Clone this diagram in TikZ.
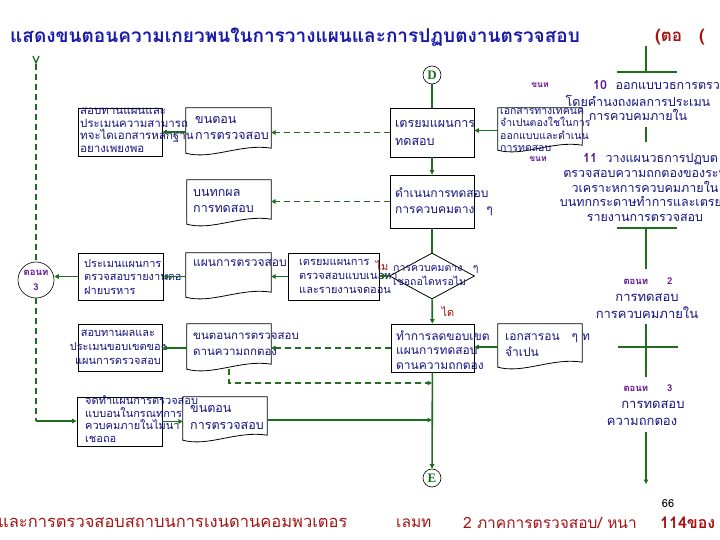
\documentclass[tikz,border=0pt]{standalone}
\usepackage{fontspec}
\setmainfont[Script=Thai]{Loma}
\newfontfamily\latserif{Liberation Serif}
\usetikzlibrary{arrows.meta,calc,shapes.geometric}
\definecolor{lgreen}{RGB}{30,110,30}
\definecolor{navy}{RGB}{20,20,130}
\definecolor{ttl}{RGB}{25,25,170}
\definecolor{dred}{RGB}{165,20,20}
\definecolor{purp}{RGB}{100,20,140}
\newcommand\docoutline[1]{%
  \draw[black, line width=0.8pt] (#1.north west) -- (#1.north east) -- ($(#1.south east)+(0,-8)$)
    .. controls ($(#1.south west)!0.65!(#1.south east)+(0,-13)$) and ($(#1.south west)!0.3!(#1.south east)+(0,4)$)
    .. ($(#1.south west)+(0,-3)$) -- cycle;}
\tikzset{
  ln/.style={draw=lgreen, line width=1.6pt},
  arr/.style={ln, -{Triangle[length=4.5pt,width=4.5pt]}},
  dsh/.style={dash pattern=on 6pt off 4pt},
  box/.style={draw=black, line width=0.8pt, inner sep=0, rectangle},
  docn/.style={inner sep=0, rectangle},
  txs/.style={inner sep=0, text=navy, font=\fontsize{10.5}{12.5}\selectfont, align=left, anchor=west},
  txb/.style={inner sep=0, text=navy, font=\fontsize{12}{16}\selectfont, align=left, anchor=west},
  txr/.style={inner sep=0, text=navy, font=\fontsize{12.5}{14.5}\selectfont, align=center},
  pl/.style={text=purp, font=\bfseries\fontsize{8.5}{10}\selectfont, inner sep=0},
  rl/.style={text=dred, font=\fontsize{11}{12}\selectfont, inner sep=0},
  conn/.style={circle, draw=black, line width=0.6pt, inner sep=0, minimum size=18pt, text=lgreen, font=\latserif\bfseries\fontsize{13}{13}\selectfont}
}
\begin{document}
\begin{tikzpicture}[x=1pt,y=-1pt]
\useasboundingbox[fill=white] (0,0) rectangle (720,540);

% title
\node[inner sep=0, anchor=west, text=ttl, font=\bfseries\fontsize{19}{22}\selectfont] (title) at (10,37) {แสดงขนตอนความเกยวพนในการวางแผนและการปฏบตงานตรวจสอบ};
\node[inner sep=0, anchor=west, text=dred, font=\bfseries\fontsize{17}{20}\selectfont] (cont) at (655,37) {(ตอ\quad (};

% ---------- central column ----------
\node[conn] (Dc) at (432,75) {D};
\node[box, minimum width=84pt, minimum height=49pt] (D1) at (432,132.5) {};
\node[txb, font=\fontsize{12.5}{18}\selectfont] (D1t) at (395,133) {เตรยมแผนการ\\ทดสอบ};
\node[box, minimum width=84pt, minimum height=53pt] (D2) at (432,201.5) {};
\node[txb] (D2t) at (395,202) {ดำเนนการทดสอบ\\การควบคมตาง\quad ๆ};
\node[diamond, draw=black, line width=0.8pt, inner sep=0, minimum width=85pt, minimum height=46pt] (Dm) at (432,276) {};
\node[txs, font=\fontsize{10.5}{14}\selectfont] (Dmt) at (393,276) {การควบคมตาง\quad ๆ\\เชอถอไดหรอไม};
\node[box, minimum width=83pt, minimum height=48pt] (R4) at (432.5,348) {};
\node[txs, font=\fontsize{12}{14.5}\selectfont] (R4t) at (396,350) {ทำการลดขอบเขต\\แผนการทดสอบ\\ดานความถกตอง};
\node[conn] (Ec) at (432,478) {E};

\node[docn, minimum width=84pt, minimum height=45pt] (T) at (540,130.5) {};
\docoutline{T}
\node[txs] (Tt) at (500,130) {เอกสารทางเทคนค\\จำเปนตองใชในการ\\ออกแบบและดำเนน\\การทดสอบ};
\node[docn, minimum width=84pt, minimum height=46pt] (Rb) at (540,347) {};
\docoutline{Rb}
\node[txb] (Rbt) at (505,345) {เอกสารอน\quad ๆ ท\\จำเปน};

% ---------- left columns ----------
\node[box, minimum width=84pt, minimum height=48pt] (A) at (120,132) {};
\node[txs, font=\fontsize{11.5}{12.7}\selectfont] (At) at (80,130) {สอบทานแผนและ\\ประเมนความสามารถ\\ทจะไดเอกสารหลกฐาน\\อยางเพยงพอ};
\node[docn, minimum width=85pt, minimum height=48pt] (B) at (228.5,132) {};
\docoutline{B}
\node[txb, font=\fontsize{12.5}{16}\selectfont] (Bt) at (195,128) {ขนตอน\\การตรวจสอบ};
\node[docn, minimum width=84pt, minimum height=47pt] (C) at (229,203.5) {};
\docoutline{C}
\node[txb, font=\fontsize{12.5}{16}\selectfont] (Ct) at (193,201) {บนทกผล\\การทดสอบ};

\node[circle, draw=black, line width=0.6pt, inner sep=0, minimum size=36pt] (K3) at (36,280) {};
\node[pl, align=center, font=\bfseries\fontsize{9.5}{15}\selectfont] (K3t) at (36,280) {ตอนท\\3};
\node[box, minimum width=85pt, minimum height=47pt] (P) at (120.5,276.5) {};
\node[txs, font=\fontsize{11}{13.5}\selectfont] (Pt) at (84,277) {ประเมนแผนการ\\ตรวจสอบรายงานตอ\\ฝายบรหาร};
\node[docn, minimum width=85pt, minimum height=47pt] (Q) at (228.5,276.5) {};
\docoutline{Q}
\node[txb] (Qt) at (193,263) {แผนการตรวจสอบ};
\node[box, minimum width=91pt, minimum height=47pt] (S) at (333.5,276.5) {};
\node[txs, font=\fontsize{11}{14}\selectfont] (St) at (299,276) {เตรยมแผนการ\\ตรวจสอบแบบเนอหา\\และรายงานจดออน};

\node[box, minimum width=84pt, minimum height=47pt] (R) at (120,347.5) {};
\node[txs, align=center, anchor=center, font=\fontsize{11}{14}\selectfont] (Rt) at (118,347) {สอบทานผลและ\\ประเมนขอบเขตของ\\แผนการตรวจสอบ};
\node[docn, minimum width=84pt, minimum height=48pt] (U) at (229,348) {};
\docoutline{U}
\node[txs, font=\fontsize{11.5}{16}\selectfont] (Ut) at (193,344) {ขนตอนการตรวจสอบ\\ดานความถกตอง};

\node[box, minimum width=85pt, minimum height=49pt] (V) at (119.5,421.5) {};
\node[txs, font=\fontsize{11}{12.7}\selectfont] (Vt) at (85,419) {จดทำแผนการตรวจสอบ\\แบบอนในกรณทการ\\ควบคมภายในไมนา\\เชอถอ};
\node[docn, minimum width=84pt, minimum height=46pt] (W) at (225,420) {};
\docoutline{W}
\node[txb, font=\fontsize{12.5}{17}\selectfont] (Wt) at (190,418) {ขนตอน\\การตรวจสอบ};

% labels
\node[rl] (no) at (382,266) {ไม};
\node[rl] (yes) at (448,312) {ได};

% ---------- connectors ----------
\draw[ln] (Dc) -- (D1);
\draw[arr] (D1) -- (D2);
\draw[ln] (D2) -- (Dm);
\draw[arr] (Dm) -- (R4);
\draw[arr] (R4) -- (Ec);
\draw[arr] (T.west) -- (D1.east |- T.west);
\draw[arr] (Rb.west) -- (R4.east |- Rb.west);
\draw[arr,dsh] (D1.west) -- (B.east |- D1.west);
\draw[arr] (B.west) -- (A.east |- B.west);
\draw[arr,dsh] (D2.west) -- (C.east |- D2.west);
\draw[arr] (Dm.west) -- (S.east |- Dm.west);
\draw[arr] (S.west) -- (Q.east |- S.west);
\draw[arr] (Q.west) -- (P.east |- Q.west);
\draw[arr] (P.west) -- (K3.east |- P.west);
\draw[arr,dsh] (R4.west) -- (U.east |- R4.west);
\draw[arr] (U.west) -- (R.east |- U.west);
\coordinate (j1) at (432,383);
\draw[arr,dsh] ($(U.south)+(0,-3)$) -- (U.south |- j1) -- (j1);
\draw[arr] (V.east) -- (W.west |- V.east);
\coordinate (j2) at (432,420);
\draw[arr] (W.east) -- (j2);

% left dashed line
\coordinate (ltop) at (36,64);
\coordinate (lbot) at (36,421);
\draw[lgreen, line width=1.3pt] (33,56) -- (36,63) -- (39,56);
\draw[ln,dsh] (ltop) -- (K3.north);
\draw[ln,dsh] (K3.south) -- (lbot);
\draw[arr] (lbot) -- (V.west |- lbot);

% ---------- right column ----------
\node[pl] (s10) at (540,85) {ขนท};
\node[inner sep=0, anchor=west, text=navy, font=\fontsize{12.5}{14}\selectfont] (s10t) at (593,85) {\textcolor{purp}{\bfseries 10}\ \ ออกแบบวธการตรว};
\node[txr] (s10b) at (638,108) {โดยคำนงถงผลการประเมน\\การควบคมภายใน};
\node[pl] (s11) at (538,159) {ขนท};
\node[inner sep=0, anchor=west, text=navy, font=\fontsize{12.5}{14}\selectfont] (s11t) at (583,159) {\textcolor{purp}{\bfseries 11}\ \ วางแผนวธการปฏบต};
\node[txr] (s11b) at (645,196) {ตรวจสอบความถกตองของระบ\\วเคราะหการควบคมภายใน\\บนทกกระดาษทำการและเตรยม\\รายงานการตรวจสอบ};
\node[inner sep=0, text=purp, font=\bfseries\fontsize{9.5}{10}\selectfont] (p2) at (648,281) {ตอนท\qquad 2};
\node[txr, font=\fontsize{13}{17}\selectfont] (p2b) at (647,306.5) {การทดสอบ\\การควบคมภายใน};
\node[inner sep=0, text=purp, font=\bfseries\fontsize{9.5}{10}\selectfont] (p3) at (648,388) {ตอนท\qquad 3};
\node[txr, font=\fontsize{13}{17}\selectfont] (p3b) at (642,413.5) {\ \ \ \ \ การทดสอบ\\ความถกตอง};

\draw[ln] (646,46) -- (646,72);
\draw[ln] (617,72) -- (677,72);
\draw[ln] (646,127) -- (646,142);
\draw[ln] (617,228) -- (677,228);
\draw[ln] (646,228) -- (646,269);
\draw[ln] (646,324) -- (646,377);
\draw[ln] (618,347) -- (678,347);
\coordinate (aend) at (646,484);
\draw[arr] (646,432) -- (aend);

% ---------- footer ----------
\node[inner sep=0, font=\fontsize{11}{12}\selectfont] (pg) at (668,504) {66};
\node[inner sep=0, anchor=west, text=dred, font=\fontsize{16.5}{17}\selectfont] (f1) at (-2,523) {และการตรวจสอบสถาบนการเงนดานคอมพวเตอร};
\node[inner sep=0, anchor=west, text=dred, font=\fontsize{15.5}{16}\selectfont] (f2) at (396,523) {เลมท};
\node[inner sep=0, anchor=west, text=dred, font=\fontsize{15.5}{16}\selectfont] (f3) at (463,523) {2 ภาคการตรวจสอบ/ หนา};
\node[inner sep=0, anchor=west, text=dred, font=\bfseries\fontsize{16}{16}\selectfont] (f4) at (660,523) {114ของ};
\end{tikzpicture}
\end{document}
